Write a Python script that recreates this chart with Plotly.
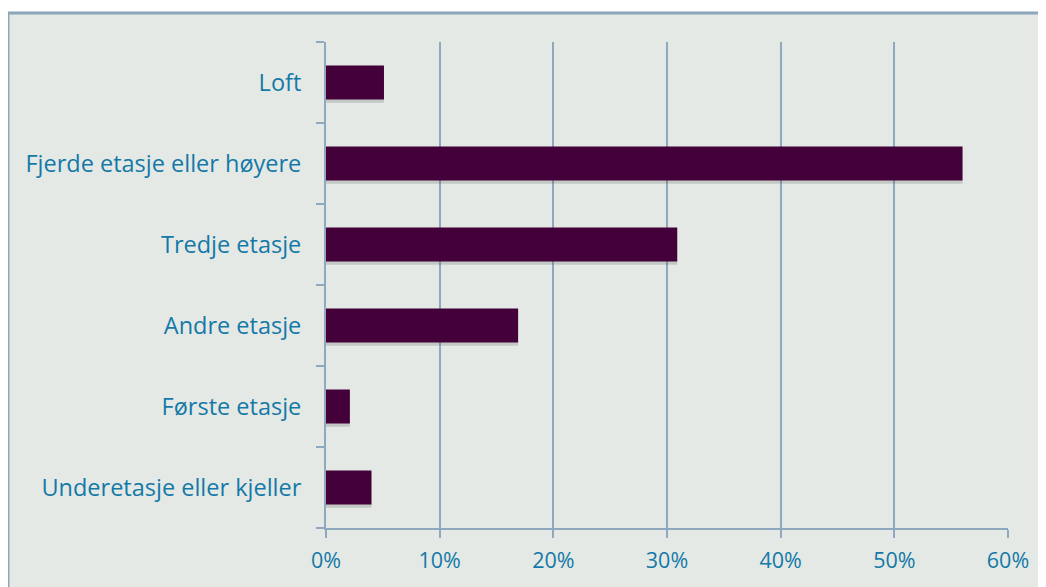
import plotly.graph_objects as go

categories = ["Underetasje eller kjeller", "Første etasje", "Andre etasje",
              "Tredje etasje", "Fjerde etasje eller høyere", "Loft"]
values = [0.04, 0.021, 0.169, 0.309, 0.56, 0.051]
tick_vals = [0, 0.1, 0.2, 0.3, 0.4, 0.5, 0.6]
tick_text = ["0%", "10%", "20%", "30%", "40%", "50%", "60%"]

bg = "#E4E9E6"
grid = "#8EA8BE"
txt = "#1479A6"
border = "#8CA6BA"

# page body has an 8px margin; figure sits at (8, 8)
OFF = 8
W, H = 1046 - OFF, 587 - OFF
L, R, T, B = 326 - OFF, 1046 - 1008, 42 - OFF, 587 - 528
pw, ph = W - L - R, H - T - B

def px_x(x):  # page px -> paper coords
    return (x - OFF - L) / pw

def px_y(y):
    return 1 - (y - OFF - T) / ph

fig = go.Figure()
fig.add_trace(go.Bar(
    y=categories, x=values, orientation="h", width=0.44, offset=-0.25,
    marker=dict(color="rgba(80,80,80,0.22)", line=dict(width=0)),
    hoverinfo="skip", showlegend=False))
fig.add_trace(go.Bar(
    y=categories, x=values, orientation="h", width=0.42, offset=-0.21,
    marker=dict(color="#430039", line=dict(width=0)),
    showlegend=False))

fig.update_layout(
    width=W, height=H,
    paper_bgcolor="white", plot_bgcolor="rgba(0,0,0,0)",
    margin=dict(l=L, r=R, t=T, b=B),
    barmode="overlay",
    font=dict(family="Open Sans, sans-serif", size=21, color=txt),
    xaxis=dict(
        range=[0, 0.6], tickvals=tick_vals, ticktext=tick_text,
        tickfont=dict(size=21.5),
        showgrid=True, gridcolor=grid, gridwidth=2,
        showline=True, linecolor=grid, linewidth=2,
        ticks="outside", ticklen=8, tickcolor=grid, tickwidth=2,
        ticklabelstandoff=4, zeroline=False,
    ),
    yaxis=dict(
        categoryorder="array", categoryarray=categories,
        tickfont=dict(size=23.5),
        showgrid=False, showline=True, linecolor=grid, linewidth=2,
        ticks="outside", ticklen=8, tickcolor=grid, tickwidth=2,
        tickson="boundaries", ticklabelstandoff=18,
    ),
    shapes=[
        dict(type="rect", xref="paper", yref="paper", layer="below",
             x0=px_x(8), x1=px_x(1100), y0=px_y(13), y1=px_y(640),
             fillcolor=bg, line=dict(width=0)),
        dict(type="line", xref="paper", yref="paper",
             x0=px_x(7), x1=px_x(1100), y0=px_y(13), y1=px_y(13),
             line=dict(color=border, width=3)),
        dict(type="line", xref="paper", yref="paper",
             x0=px_x(8), x1=px_x(8), y0=px_y(12), y1=px_y(640),
             line=dict(color=border, width=3)),
    ],
)

fig.write_html("out.html")
